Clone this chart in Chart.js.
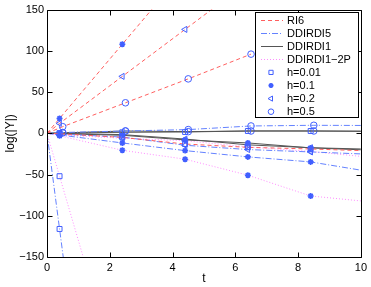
<!DOCTYPE html>
<html><head><meta charset="utf-8">
<script src="https://cdn.jsdelivr.net/npm/chart.js@4.4.1/dist/chart.umd.min.js"></script>
<style>html,body{margin:0;padding:0;background:#fff}#wrap{width:371px;height:287px}</style>
</head><body><div id="wrap"><canvas id="c" width="371" height="287"></canvas></div>
<script>
// ---- data ----
const xTicks = [0, 2, 4, 6, 8, 10];
const yTicks = [-150, -100, -50, 0, 50, 100, 150];
const methods = ['RI6', 'DDIRDI5', 'DDIRDI1', 'DDIRDI1\u22122P'];
const stepLabels = ['h=0.01', 'h=0.1', 'h=0.2', 'h=0.5'];
const markerTimes = [0.4, 0.5, 2.4, 2.5, 4.4, 4.5, 6.4, 6.5, 8.4, 8.5];
const tA = [0, 0.4, 2.4, 4.4, 6.4, 8.4, 10];
const tB = [0, 0.5, 2.5, 4.5, 6.5, 8.5, 10];

// RI6
const ri6_h001_t = tA,                    ri6_h001 = [0, -0.5, -5, -13, -17, -19, -21];
const ri6_h01_t  = [0, 0.4, 2.4, 4.4],      ri6_h01  = [0, 18, 108, 198];
const ri6_h02_t  = [0, 0.4, 2.4, 4.4, 6.4], ri6_h02  = [0, 12, 69, 126, 183];
const ri6_h05_t  = [0, 0.5, 2.5, 4.5, 6.5], ri6_h05  = [0, 8, 37, 66, 96];
// DDIRDI5
const dd5_h001_t = [0, 0.4, 0.6],         dd5_h001 = [0, -116, -174];
const dd5_h01_t  = tA,                    dd5_h01  = [0, -2, -11.7, -21, -28.6, -34.7, -44.7];
const dd5_h02_t  = tA,                    dd5_h02  = [0, -1, -4.5, -14.5, -19.7, -22.6, -25];
const dd5_h05_t  = tB,                    dd5_h05  = [0, 1, 2.8, 4.5, 8.9, 9.7, 9.5];
// DDIRDI1
const dd1_h001_t = tA,                    dd1_h001 = [0, 0.3, 1.2, 1.6, 2.8, 2.8, 2.5];
const dd1_h01_t  = tA,                    dd1_h01  = [0, -0.5, -2.4, -8, -11.7, -17.7, -20];
const dd1_h02_t  = tA,                    dd1_h02  = [0, 0, -1.6, -7, -14, -17.5, -19];
const dd1_h05_t  = tB,                    dd1_h05  = [0, 0.5, 2.8, 2, 2.8, 2.8, 2.5];
// DDIRDI1-2P
const dd12p_h001_t = [0, 0.4, 1.2],       dd12p_h001 = [0, -52, -156];
const dd12p_h01_t  = tA,                  dd12p_h01  = [0, -3, -20.6, -31.4, -50.8, -76, -82];
const dd12p_h02_t  = tA,                  dd12p_h02  = [0, -2, -6, -9, -16.5, -22, -28];

// ---- styles ----
const lineStyles = [
  { color: 'rgb(255,95,95)',  dash: [4, 3] },
  { color: 'rgb(100,130,255)', dash: [6, 2, 1, 2] },
  { color: 'rgb(85,85,85)',   dash: [] },
  { color: 'rgb(255,140,255)', dash: [1, 2] }
];
const markerStyles = [
  { style: 'rect', r: 3.5, rot: 0 },
  { style: 'star', r: 3, rot: 0 },
  { style: 'triangle', r: 3.5, rot: -90 },
  { style: 'circle', r: 3.3, rot: 0 }
];
const markerColor = 'rgb(65,95,255)';

const series = [
  [0, 0, ri6_h001_t, ri6_h001], [0, 1, ri6_h01_t, ri6_h01], [0, 2, ri6_h02_t, ri6_h02], [0, 3, ri6_h05_t, ri6_h05],
  [1, 0, dd5_h001_t, dd5_h001], [1, 1, dd5_h01_t, dd5_h01], [1, 2, dd5_h02_t, dd5_h02], [1, 3, dd5_h05_t, dd5_h05],
  [2, 0, dd1_h001_t, dd1_h001], [2, 1, dd1_h01_t, dd1_h01], [2, 2, dd1_h02_t, dd1_h02], [2, 3, dd1_h05_t, dd1_h05],
  [3, 0, dd12p_h001_t, dd12p_h001], [3, 1, dd12p_h01_t, dd12p_h01], [3, 2, dd12p_h02_t, dd12p_h02]
];

const datasets = series.map(([m, h, ts, ys]) => {
  const ms = markerStyles[h];
  return {
    data: ts.map((t, i) => ({ x: t, y: ys[i] })),
    borderColor: lineStyles[m].color,
    borderDash: lineStyles[m].dash,
    borderWidth: 1,
    tension: 0,
    fill: false,
    pointStyle: ms.style,
    pointRotation: ms.rot,
    pointBorderColor: markerColor,
    pointBackgroundColor: 'rgba(0,0,0,0)',
    pointBorderWidth: h === 1 ? 1.6 : 1,
    pointRadius: (ctx) => (ctx.raw && markerTimes.includes(ctx.raw.x)) ? ms.r : 0,
    pointHoverRadius: 0
  };
});

const FONT = "'Liberation Sans', Arial, Helvetica, sans-serif";
const fmt = (v) => (v < 0 ? '\u2212' + Math.abs(v) : String(v));

function drawMarker(ctx, style, x, y, r, rot) {
  ctx.beginPath();
  if (style === 'rect') {
    const s = Math.SQRT1_2 * r;
    ctx.rect(x - s, y - s, 2 * s, 2 * s);
  } else if (style === 'circle') {
    ctx.arc(x, y, r, 0, Math.PI * 2);
  } else if (style === 'triangle') {
    const a = rot * Math.PI / 180;
    for (let k = 0; k < 3; k++) {
      const ang = a + k * 2 * Math.PI / 3;
      const px = x + Math.sin(ang) * r, py = y - Math.cos(ang) * r;
      if (k === 0) ctx.moveTo(px, py); else ctx.lineTo(px, py);
    }
    ctx.closePath();
  } else if (style === 'star') {
    for (let k = 0; k < 4; k++) {
      const ang = k * Math.PI / 4;
      ctx.moveTo(x + Math.cos(ang) * r, y + Math.sin(ang) * r);
      ctx.lineTo(x - Math.cos(ang) * r, y - Math.sin(ang) * r);
    }
  }
  ctx.stroke();
}

const framePlugin = {
  id: 'frame',
  afterDraw(chart) {
    const { ctx, chartArea: a, scales } = chart;
    ctx.save();
    ctx.strokeStyle = '#000';
    ctx.lineWidth = 1;
    ctx.setLineDash([]);
    const L = Math.round(a.left) + 0.5, R = Math.round(a.right) + 0.5;
    const T = Math.round(a.top) + 0.5, B = Math.round(a.bottom) + 0.5;
    ctx.beginPath();
    ctx.rect(L, T, R - L, B - T);
    xTicks.forEach(v => {
      const px = Math.round(scales.x.getPixelForValue(v)) + 0.5;
      ctx.moveTo(px, B); ctx.lineTo(px, B - 5);
      ctx.moveTo(px, T); ctx.lineTo(px, T + 5);
    });
    yTicks.forEach(v => {
      const py = Math.round(scales.y.getPixelForValue(v)) + 0.5;
      ctx.moveTo(L, py); ctx.lineTo(L + 5, py);
      ctx.moveTo(R, py); ctx.lineTo(R - 5, py);
    });
    ctx.stroke();

    // legend box
    const bx = 255.5, by = 12.5, bw = 103, bh = 105;
    ctx.fillStyle = '#fff';
    ctx.fillRect(bx, by, bw, bh);
    ctx.strokeStyle = '#000';
    ctx.strokeRect(bx, by, bw, bh);
    ctx.font = '11px ' + FONT;
    ctx.textBaseline = 'middle';
    ctx.textAlign = 'left';
    const labels = methods.concat(stepLabels);
    labels.forEach((lab, i) => {
      const yy = 20 + i * 13.1;
      if (i < 4) {
        const ls = lineStyles[i];
        ctx.strokeStyle = ls.color;
        ctx.setLineDash(ls.dash);
        ctx.lineWidth = 1;
        ctx.beginPath();
        ctx.moveTo(261, Math.round(yy) + 0.5);
        ctx.lineTo(283, Math.round(yy) + 0.5);
        ctx.stroke();
      } else {
        const ms = markerStyles[i - 4];
        ctx.setLineDash([]);
        ctx.strokeStyle = markerColor;
        ctx.lineWidth = (i - 4) === 1 ? 1.6 : 1;
        drawMarker(ctx, ms.style, 271, yy, ms.r * 0.85, ms.rot);
      }
      ctx.fillStyle = '#000';
      ctx.fillText(lab, 287, yy + 0.5);
    });
    ctx.restore();
  }
};

new Chart(document.getElementById('c'), {
  type: 'line',
  data: { datasets },
  options: {
    responsive: false,
    devicePixelRatio: 1,
    animation: false,
    events: [],
    layout: { padding: { left: 0, right: 9, top: 9, bottom: 0 } },
    plugins: { legend: { display: false }, tooltip: { enabled: false } },
    scales: {
      x: {
        type: 'linear', min: 0, max: 10,
        afterBuildTicks: (s) => { s.ticks = xTicks.map(v => ({ value: v })); },
        afterFit: (s) => { s.height = 30; },
        grid: { display: false, drawTicks: false },
        border: { display: false },
        ticks: { color: '#000', font: { size: 11, family: FONT }, padding: 4, maxRotation: 0, callback: fmt },
        title: { display: true, text: 't', color: '#000', font: { size: 12, family: FONT }, padding: { top: 0, bottom: 1 } }
      },
      y: {
        type: 'linear', min: -150, max: 150,
        afterBuildTicks: (s) => { s.ticks = yTicks.map(v => ({ value: v })); },
        afterFit: (s) => { s.width = 47; },
        grid: { display: false, drawTicks: false },
        border: { display: false },
        ticks: { color: '#000', font: { size: 11, family: FONT }, padding: 3, callback: fmt },
        title: { display: true, text: 'log(|Y|)', color: '#000', font: { size: 12, family: FONT }, padding: { top: 3, bottom: 0 } }
      }
    }
  },
  plugins: [framePlugin]
});
</script>
</body></html>
